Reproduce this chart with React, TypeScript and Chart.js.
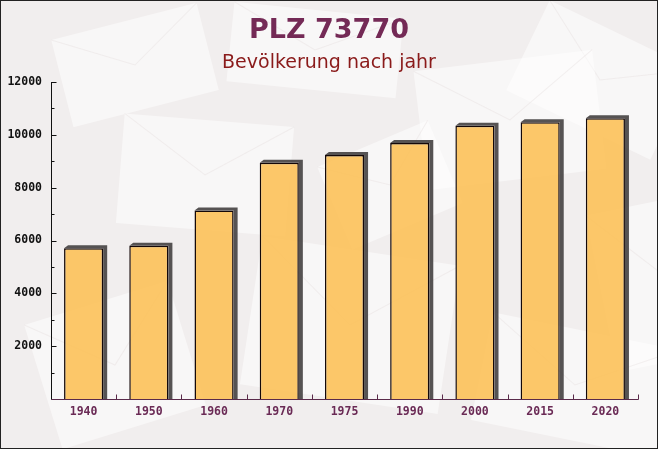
import React, { useEffect, useRef } from "react";
import { Chart, registerables } from "chart.js";

Chart.register(...registerables);

const categories = ["1940", "1950", "1960", "1970", "1975", "1990", "2000", "2015", "2020"];
const population = [5710, 5800, 7140, 8940, 9240, 9690, 10340, 10480, 10630];
const yTickValues = [0, 2000, 4000, 6000, 8000, 10000, 12000];
const yMinorStep = 1000;
const titleText = "PLZ 73770";
const subtitleText = "Bevölkerung nach jahr";

const W = 658;
const H = 449;

const decoPlugin = {
  id: "deco",
  beforeDraw(chart: any) {
    const ctx = chart.ctx;
    ctx.save();
    ctx.fillStyle = "#f1eeee";
    ctx.fillRect(0, 0, W, H);
    const shapes = [
      [60, 20, 150, 90, -0.25],
      [230, 10, 170, 80, 0.1],
      [520, 30, 160, 100, 0.45],
      [120, 120, 170, 110, 0.08],
      [420, 60, 180, 120, -0.12],
      [600, 200, 140, 160, -0.2],
      [250, 250, 200, 150, 0.15],
      [40, 300, 150, 130, -0.3],
      [480, 330, 190, 110, 0.2],
      [330, 140, 120, 90, -0.4],
    ];
    for (const [x, y, w, h, r] of shapes) {
      ctx.save();
      ctx.translate(x + w / 2, y + h / 2);
      ctx.rotate(r);
      ctx.fillStyle = "rgba(255,255,255,0.5)";
      ctx.fillRect(-w / 2, -h / 2, w, h);
      ctx.strokeStyle = "rgba(230,224,224,0.45)";
      ctx.lineWidth = 1;
      ctx.beginPath();
      ctx.moveTo(-w / 2, -h / 2);
      ctx.lineTo(0, 0);
      ctx.lineTo(w / 2, -h / 2);
      ctx.stroke();
      ctx.restore();
    }
    ctx.restore();
  },
  beforeDatasetsDraw(chart: any) {
    const ctx = chart.ctx;
    const meta = chart.getDatasetMeta(0);
    const d = 4;
    ctx.save();
    ctx.fillStyle = "rgba(72,68,68,0.92)";
    for (const el of meta.data) {
      const left = el.x - el.width / 2;
      const right = el.x + el.width / 2;
      const top = el.y;
      const bottom = el.base;
      ctx.beginPath();
      ctx.moveTo(left, top);
      ctx.lineTo(left + d, top - d + 1);
      ctx.lineTo(right + d, top - d + 1);
      ctx.lineTo(right + d, bottom);
      ctx.lineTo(right, bottom);
      ctx.lineTo(right, top);
      ctx.closePath();
      ctx.fill();
    }
    ctx.restore();
  },
  afterDraw(chart: any) {
    const ctx = chart.ctx;
    const area = chart.chartArea;
    const y = chart.scales.y;
    const x = chart.scales.x;
    ctx.save();
    ctx.strokeStyle = "#111111";
    ctx.lineWidth = 1;
    const ax = Math.round(area.left) + 0.5;
    const by = Math.round(area.bottom) + 0.5;
    ctx.beginPath();
    ctx.moveTo(ax, y.getPixelForValue(12000));
    ctx.lineTo(ax, by);
    ctx.stroke();
    for (let v = 0; v <= 12000; v += yMinorStep) {
      const py = Math.round(y.getPixelForValue(v)) + 0.5;
      const len = v % 2000 === 0 ? 5 : 3;
      ctx.beginPath();
      ctx.moveTo(ax, py);
      ctx.lineTo(ax + len, py);
      ctx.stroke();
    }
    ctx.strokeStyle = "#5a2a4a";
    ctx.beginPath();
    ctx.moveTo(ax, by);
    ctx.lineTo(Math.round(area.right) + 0.5, by);
    ctx.stroke();
    const n = categories.length;
    for (let i = 1; i <= n; i++) {
      const px =
        i === n
          ? Math.round(area.right)
          : Math.round((x.getPixelForValue(i - 1) + x.getPixelForValue(i)) / 2);
      ctx.beginPath();
      ctx.moveTo(px + 0.5, by);
      ctx.lineTo(px + 0.5, by - 5);
      ctx.stroke();
    }
    ctx.strokeStyle = "#222222";
    ctx.strokeRect(0.5, 0.5, W - 1, H - 1);
    ctx.textAlign = "center";
    ctx.textBaseline = "middle";
    ctx.fillStyle = "#742a56";
    ctx.font = "bold 27px 'DejaVu Sans'";
    ctx.fillText(titleText, W / 2, 31);
    ctx.fillStyle = "#8a1a1a";
    ctx.font = "19px 'DejaVu Sans'";
    ctx.fillText(subtitleText, W / 2, 63);
    ctx.restore();
  },
};

export default function App() {
  const ref = useRef<HTMLCanvasElement | null>(null);
  useEffect(() => {
    document.body.style.margin = "0";
    const canvas = ref.current;
    if (!canvas) return;
    const chart = new Chart(canvas, {
      type: "bar",
      data: {
        labels: categories,
        datasets: [
          {
            data: population,
            backgroundColor: "rgba(252,194,92,0.92)",
            borderColor: "#140808",
            borderWidth: 1.5,
            barPercentage: 0.6,
            categoryPercentage: 1,
          },
        ],
      },
      options: {
        animation: false,
        responsive: false,
        maintainAspectRatio: false,
        layout: { padding: { top: 82, left: 0, right: 20, bottom: 0 } },
        plugins: {
          legend: { display: false },
          title: { display: false },
          tooltip: { enabled: false },
        },
        scales: {
          x: {
            grid: { display: false, drawTicks: false },
            border: { display: false },
            afterFit: (s: any) => {
              s.height = 50;
            },
            ticks: {
              padding: 6,
              color: "#6a2a55",
              font: { family: "'DejaVu Sans Mono'", size: 11.5, weight: "bold" },
            },
          },
          y: {
            min: 0,
            max: 12000,
            grid: { display: false, drawTicks: false },
            border: { display: false },
            afterFit: (s: any) => {
              s.width = 51;
            },
            afterBuildTicks: (s: any) => {
              s.ticks = yTickValues.map((v) => ({ value: v }));
            },
            ticks: {
              padding: 9,
              color: "#111111",
              font: { family: "'DejaVu Sans Mono'", size: 11.5, weight: "bold" },
              callback: (v: any) => (v === 0 ? "" : String(v)),
            },
          },
        },
      },
      plugins: [decoPlugin],
    });
    return () => chart.destroy();
  }, []);
  return (
    <div style={{ position: "absolute", left: 0, top: 0, width: W, height: H }}>
      <canvas ref={ref} width={W} height={H} style={{ width: W, height: H, display: "block" }} />
    </div>
  );
}
